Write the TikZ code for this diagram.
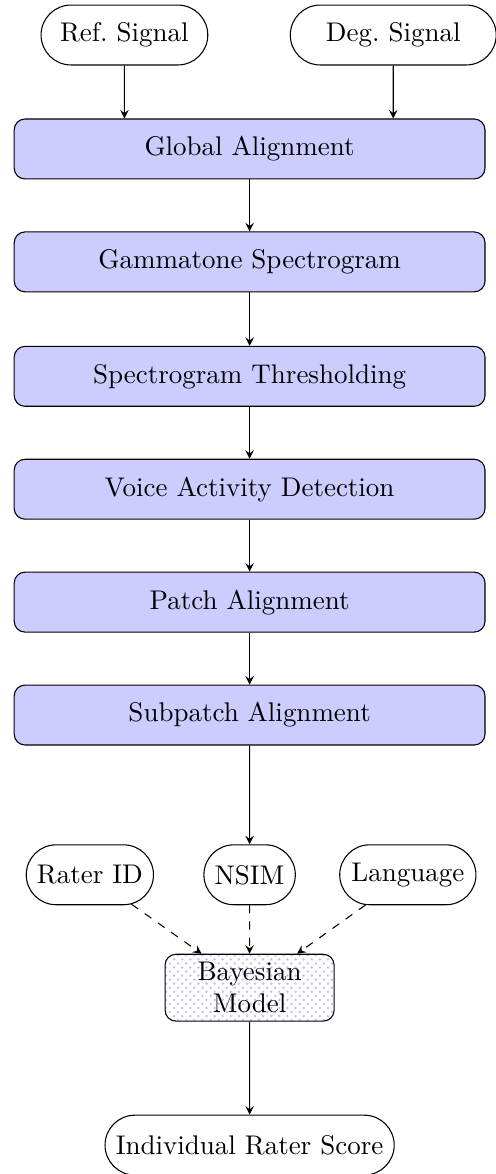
\documentclass[tikz,border=0pt]{standalone}
\usetikzlibrary{shapes.misc,patterns,arrows,positioning}

\tikzset{
  startstop/.style={rounded rectangle, draw, minimum height=0.78cm, inner xsep=3.4pt},
  process/.style={rectangle, rounded corners, draw, fill=blue!20,
    minimum width=6.13cm, minimum height=0.78cm},
  model/.style={rectangle, rounded corners, draw, pattern=crosshatch dots,
    pattern color=blue!25, align=center, minimum width=2.2cm, minimum height=0.87cm,
    inner sep=1pt},
  arrow/.style={-stealth},
  dasharrow/.style={-stealth, dashed}
}

\begin{document}
\begin{tikzpicture}
  \useasboundingbox (0,0) rectangle (6.458,-15.286);

  % inputs
  \node[startstop, minimum width=2.41cm] (ref) at (1.62,-0.456) {Ref.\ Signal};
  \node[startstop, minimum width=2.92cm] (deg) at (5.12,-0.456) {Deg.\ Signal};

  % processing chain
  \node[process] (glob) at (3.25,-1.94) {Global Alignment};
  \node[process] (gamma) at (3.25,-3.41) {Gammatone Spectrogram};
  \node[process] (thresh) at (3.25,-4.90) {Spectrogram Thresholding};
  \node[process] (vad) at (3.25,-6.37) {Voice Activity Detection};
  \node[process] (patch) at (3.25,-7.84) {Patch Alignment};
  \node[process] (subpatch) at (3.25,-9.31) {Subpatch Alignment};

  % model inputs
  \node[startstop] (rater) at (1.17,-11.39) {Rater ID};
  \node[startstop] (nsim) at (3.25,-11.39) {NSIM};
  \node[startstop] (lang) at (5.31,-11.39) {Language};

  \node[model] (bayes) at (3.25,-12.86) {Bayesian\\Model};
  \node[startstop] (score) at (3.25,-14.91) {Individual Rater Score};

  \draw[arrow] (ref) -- (ref |- glob.north);
  \draw[arrow] (deg) -- (deg |- glob.north);
  \draw[arrow] (glob) -- (gamma);
  \draw[arrow] (gamma) -- (thresh);
  \draw[arrow] (thresh) -- (vad);
  \draw[arrow] (vad) -- (patch);
  \draw[arrow] (patch) -- (subpatch);
  \draw[arrow] (subpatch) -- (nsim);
  \draw[dasharrow] (rater) -- (bayes);
  \draw[dasharrow] (nsim) -- (bayes);
  \draw[dasharrow] (lang) -- (bayes);
  \draw[arrow] (bayes) -- (score);
\end{tikzpicture}
\end{document}
